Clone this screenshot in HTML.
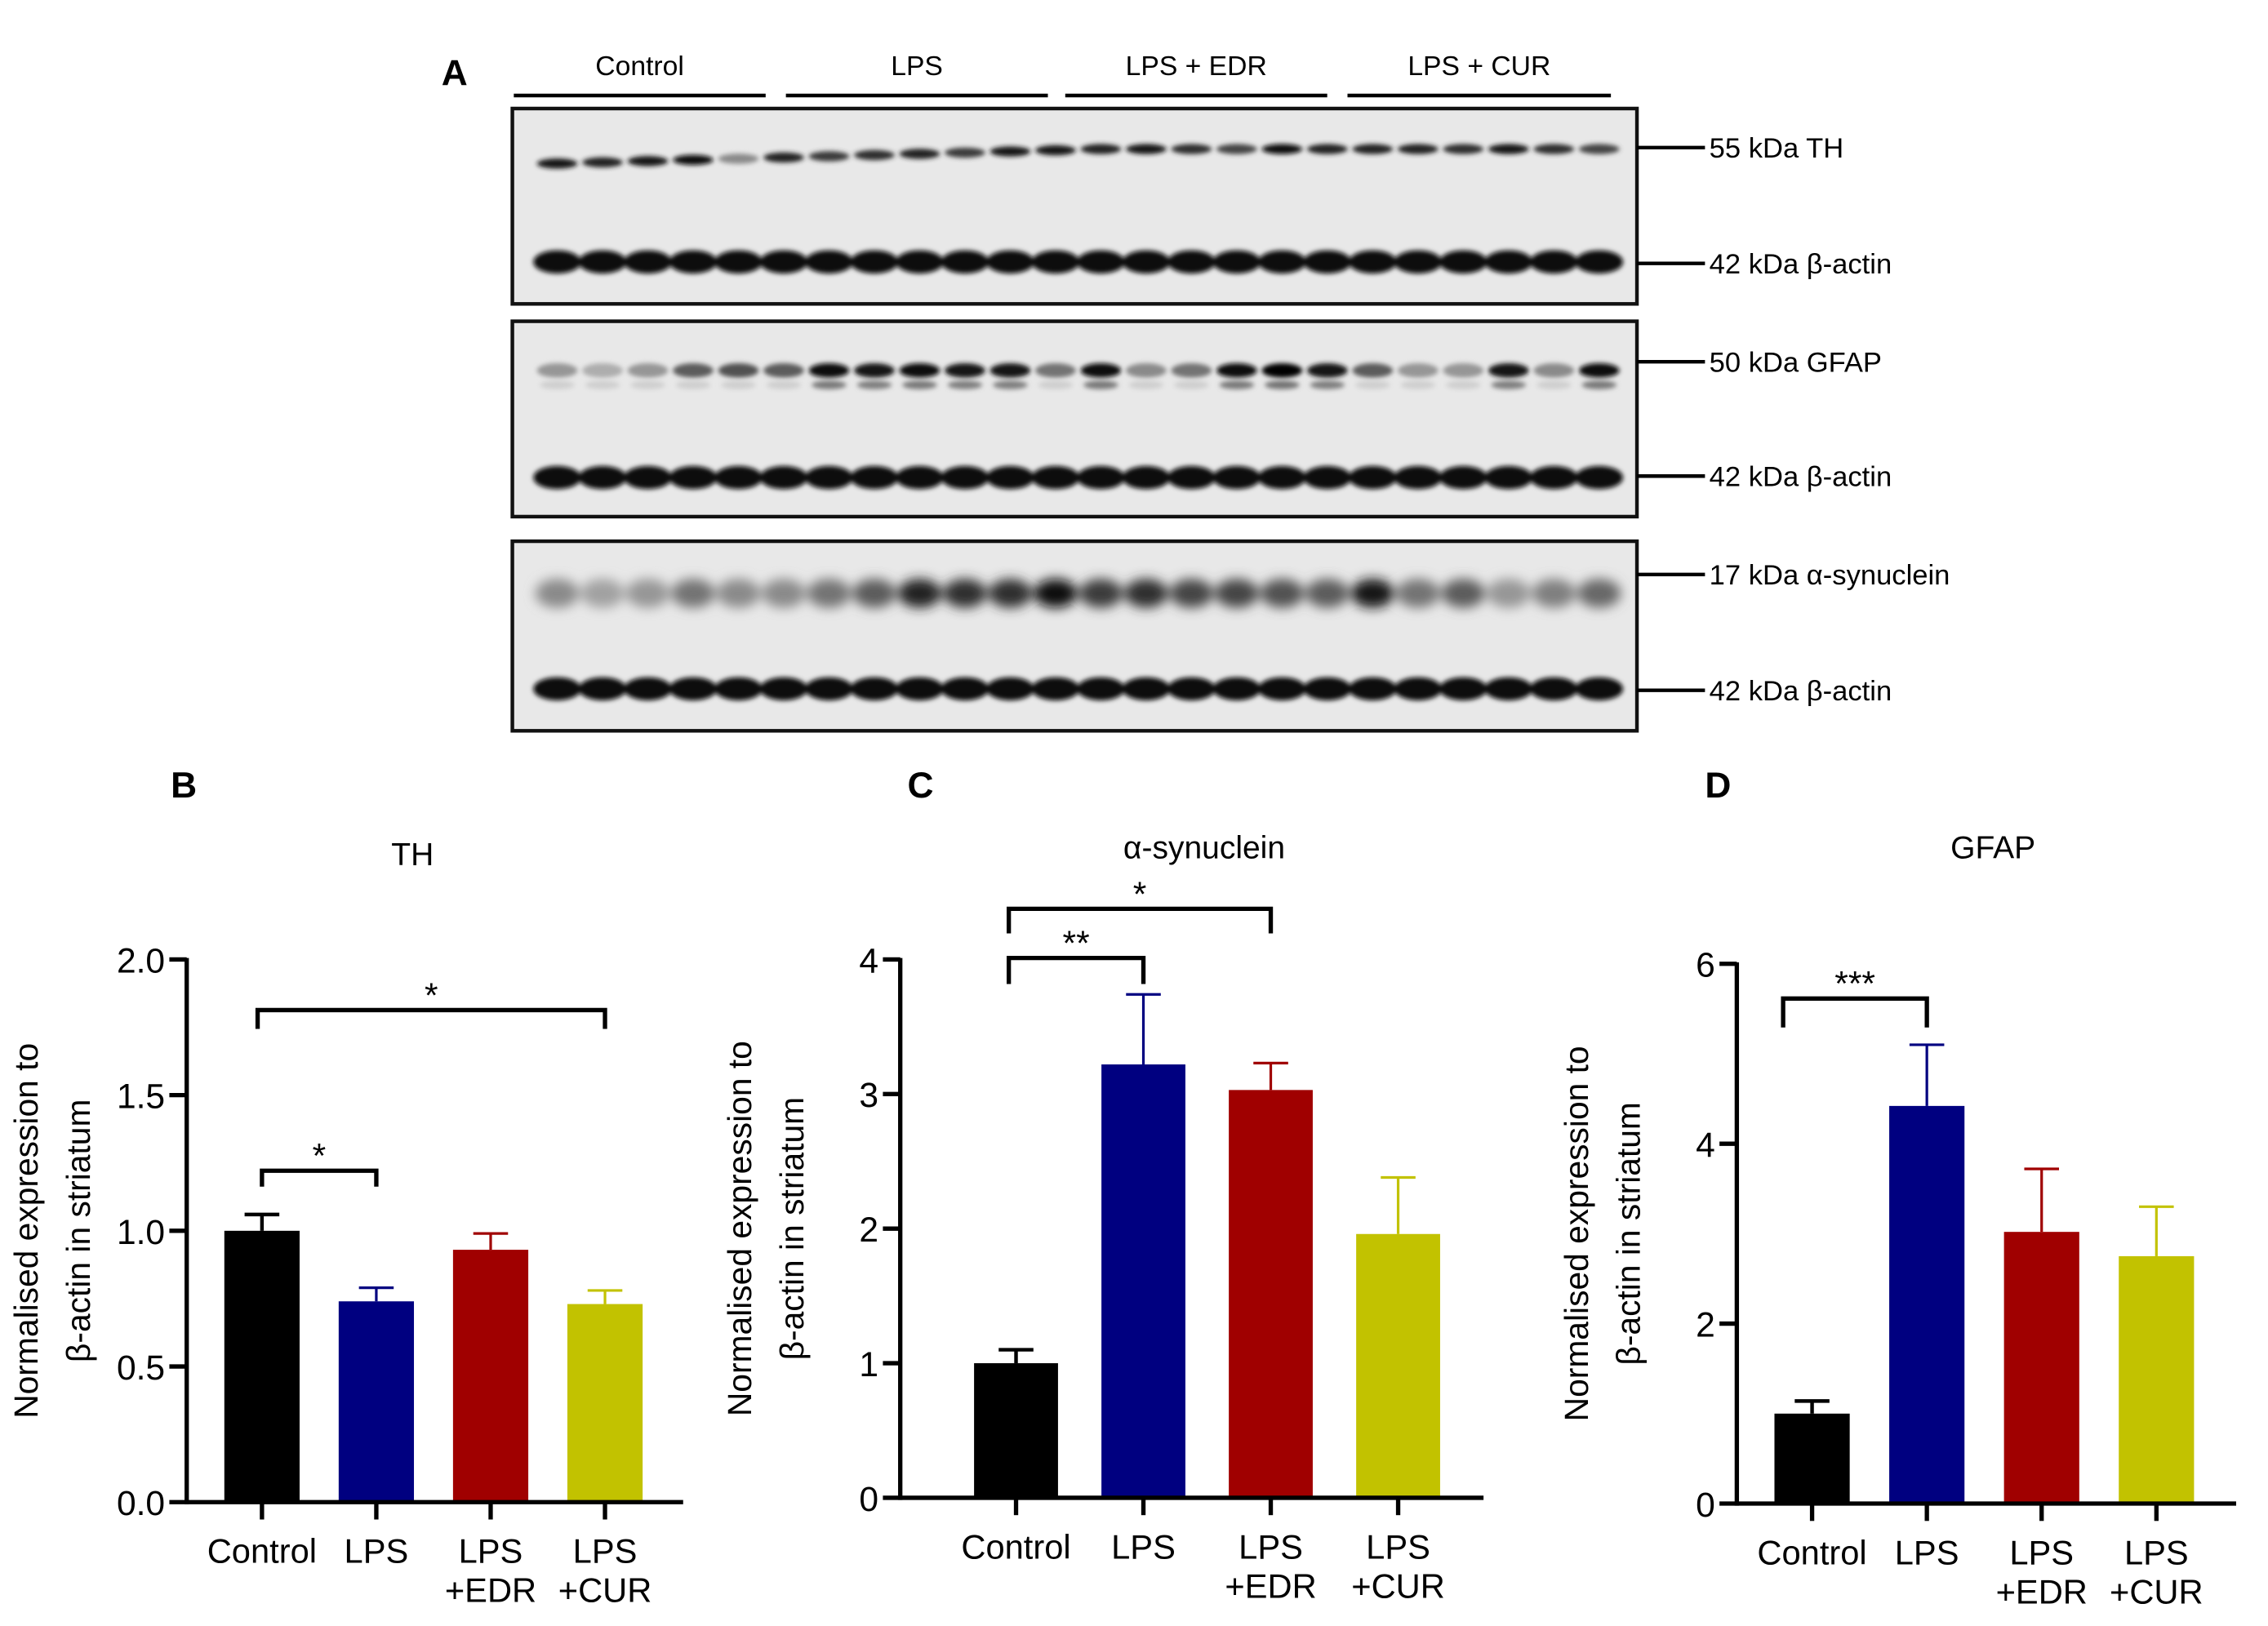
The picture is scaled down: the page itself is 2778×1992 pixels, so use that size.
<!DOCTYPE html>
<html><head><meta charset="utf-8">
<style>
html,body{margin:0;padding:0;background:#fff;}
svg{display:block;font-family:"Liberation Sans",Arial,sans-serif;}
</style></head>
<body>
<svg id="fig" width="2778" height="1992" viewBox="0 0 1567 1123.6" preserveAspectRatio="none" xmlns="http://www.w3.org/2000/svg">
<defs>
<filter id="blur1" x="-50%" y="-100%" width="200%" height="300%"><feGaussianBlur stdDeviation="1.6"/></filter>
<filter id="blur2" x="-50%" y="-100%" width="200%" height="300%"><feGaussianBlur stdDeviation="4"/></filter>
</defs>
<g id="blot"></g>
<g id="charts"></g>
</svg>
<script>
// ---- Western blot data ----
const laneCount = 24;
const thIntensity = [0.9,0.85,0.9,0.95,0.4,0.85,0.75,0.8,0.85,0.75,0.9,0.9,0.85,0.9,0.8,0.7,0.95,0.85,0.85,0.85,0.8,0.9,0.8,0.7];
const gfapIntensity = [0.35,0.25,0.35,0.6,0.65,0.6,0.95,0.9,0.95,0.9,0.9,0.5,0.95,0.4,0.5,0.95,1,0.9,0.6,0.35,0.35,0.9,0.4,0.95];
const asynIntensity = [0.4,0.3,0.35,0.5,0.4,0.4,0.5,0.6,0.85,0.8,0.8,0.95,0.75,0.8,0.7,0.7,0.65,0.6,0.9,0.5,0.6,0.35,0.45,0.55];
const groupNames = ["Control","LPS","LPS + EDR","LPS + CUR"];
const markerLabels = ["55 kDa  TH","42 kDa β-actin","50 kDa  GFAP","42 kDa β-actin","17 kDa  α-synuclein","42 kDa β-actin"];

// ---- Chart data ----
const categories = ["Control","LPS","LPS\n+EDR","LPS\n+CUR"];
const barColors = ["#000000","#000080","#a00000","#c2c200"];
const thValues = [1.0,0.74,0.93,0.73];
const thErrors = [0.06,0.05,0.06,0.05];
const thTicks = ["0.0","0.5","1.0","1.5","2.0"];
const synValues = [1.0,3.22,3.03,1.96];
const synErrors = [0.1,0.52,0.2,0.42];
const synTicks = ["0","1","2","3","4"];
const gfapValues = [1.0,4.42,3.02,2.75];
const gfapErrors = [0.14,0.68,0.7,0.55];
const gfapTicks = ["0","2","4","6"];

const NS="http://www.w3.org/2000/svg";
function mk(parent,tag,attrs,text){const e=document.createElementNS(NS,tag);for(const k in attrs)e.setAttribute(k,attrs[k]);if(text!==undefined)e.textContent=text;parent.appendChild(e);return e;}

// ---- Blot ----
const blot=document.getElementById('blot');
const laneX=i=>385+i*31.3;
const groupLines=[[355,529],[543,724],[736,917],[931,1113]];
groupNames.forEach((g,i)=>{
  const l=mk(blot,'line',{x1:groupLines[i][0],x2:groupLines[i][1],y1:66,y2:66,stroke:'#000','stroke-width':2.5});
  
  
  const t=mk(blot,'text',{x:(groupLines[i][0]+groupLines[i][1])/2,y:52,'font-size':19,'text-anchor':'middle'},g);
  
  
});
mk(blot,'text',{x:305,y:59,'font-size':25,'font-weight':'bold'},'A');
const boxes=[[75,210],[222,357],[374,505]];
boxes.forEach((b,i)=>{
  const r=mk(blot,'rect',{x:354,y:b[0],width:777,height:b[1]-b[0],fill:'#e8e8e8',stroke:'#111','stroke-width':2.5});
  
  
});
function bands(arr,yFn,h,w,blur){
  const g=mk(blot,'g',{filter:'url(#'+blur+')'});
  for(let i=0;i<laneCount;i++){
    const v=arr?arr[i]:0.97;
    const c=Math.round(230*(1-v));
    const e=mk(g,'ellipse',{cx:laneX(i),cy:yFn(i),rx:w,ry:h,fill:'rgb('+c+','+c+','+c+')'});
    
    
  }
}
bands(thIntensity,i=>113-10*Math.min(i,12)/12,3.5,14,'blur1');
bands(null,i=>181,8,16.5,'blur1');
bands(gfapIntensity,i=>256,5,14,'blur1');
bands(gfapIntensity.map(v=>v>0.85?v*0.5:0.1),i=>266,3,12,'blur1');
bands(null,i=>330,8,16.5,'blur1');
bands(asynIntensity,i=>410,10,15,'blur2');
bands(null,i=>476,8,16.5,'blur1');
const markerY=[102,182,250,329,397,477];
markerLabels.forEach((m,i)=>{
  mk(blot,'line',{x1:1131,x2:1178,y1:markerY[i],y2:markerY[i],stroke:'#000','stroke-width':2.5});
  const t=mk(blot,'text',{x:1181,y:markerY[i]+7,'font-size':19.5,'xml:space':'preserve'},m);
  
  
});

// ---- Bar charts ----
const charts=document.getElementById('charts');
function chart(cfg){
  const g=mk(charts,'g',{});
  
  
  const ys=v=>cfg.y0-(v/cfg.max)*(cfg.y0-cfg.yTop);
  mk(g,'text',{x:cfg.letterX,y:551,'font-size':25,'font-weight':'bold'},cfg.letter);
  const tt=mk(g,'text',{x:cfg.titleX,y:cfg.titleY,'font-size':22,'text-anchor':'middle'},cfg.title);
  
  
  const yl=mk(g,'text',{transform:`translate(${cfg.ax-91},${(cfg.y0+cfg.yTop)/2}) rotate(-90)`,'font-size':23,'text-anchor':'middle'});
  
  
  mk(yl,'tspan',{x:0,dy:-12},'Normalised expression to');
  mk(yl,'tspan',{x:0,dy:36},'β-actin in striatum');
  cfg.ticks.forEach(t=>{
    const y=ys(parseFloat(t));
    mk(g,'line',{x1:cfg.ax-12,x2:cfg.ax,y1:y,y2:y,stroke:'#000','stroke-width':3});
    const tl=mk(g,'text',{x:cfg.ax-15,y:y+9,'font-size':24,'text-anchor':'end'},t);
    
    
  });
  const xs=i=>cfg.x0+cfg.step*i;
  cfg.values.forEach((v,i)=>{
    const cx=xs(i);
    const top=ys(v);
    const r=mk(g,'rect',{x:cx-cfg.bw/2,y:top,width:cfg.bw,height:cfg.y0-top,fill:barColors[i]});
    
    
    const et=ys(v+cfg.errors[i]);
    const col=i===0?'#000':barColors[i];
    mk(g,'line',{x1:cx,x2:cx,y1:top,y2:et,stroke:col,'stroke-width':i===0?2.5:1.8});
    mk(g,'line',{x1:cx-12,x2:cx+12,y1:et,y2:et,stroke:col,'stroke-width':i===0?2.5:1.8});
    mk(g,'line',{x1:cx,x2:cx,y1:cfg.y0,y2:cfg.y0+12,stroke:'#000','stroke-width':3});
    const lines=categories[i].split('\n');
    lines.forEach((ln,k)=>{
      const t=mk(g,'text',{x:cx,y:cfg.y0+42+k*27,'font-size':23.5,'text-anchor':'middle'},ln);
      
      
    });
  });
  mk(g,'line',{x1:cfg.ax,x2:cfg.ax,y1:cfg.yTop-1,y2:cfg.y0+1.5,stroke:'#000','stroke-width':3});
  mk(g,'line',{x1:cfg.ax,x2:cfg.xEnd,y1:cfg.y0,y2:cfg.y0,stroke:'#000','stroke-width':3});
  cfg.brackets.forEach(b=>{
    const x1=xs(b.a)+b.off, x2=xs(b.b);
    const p=mk(g,'path',{d:`M${x1},${b.y+b.h} V${b.y} H${x2} V${b.y+b.h}`,fill:'none',stroke:'#000','stroke-width':3});
    
    
    const s=mk(g,'text',{x:(x1+x2)/2,y:b.y-2,'font-size':24,'text-anchor':'middle'},b.s);
    
    
  });
}
chart({name:'chart-th',letter:'B',letterX:118,title:'TH',titleX:285,titleY:598,ax:129,xEnd:472,y0:1038,yTop:663,max:2,x0:181,step:79,bw:52,values:thValues,errors:thErrors,ticks:thTicks,
  brackets:[{a:0,b:1,y:809,h:11,s:'*',off:0},{a:0,b:3,y:698,h:13,s:'*',off:-3}]});
chart({name:'chart-synuclein',letter:'C',letterX:627,title:'α-synuclein',titleX:832,titleY:593,ax:622,xEnd:1025,y0:1035,yTop:663,max:4,x0:702,step:88,bw:58,values:synValues,errors:synErrors,ticks:synTicks,
  brackets:[{a:0,b:1,y:662,h:18,s:'**',off:-5},{a:0,b:2,y:628,h:17,s:'*',off:-5}]});
chart({name:'chart-gfap',letter:'D',letterX:1178,title:'GFAP',titleX:1377,titleY:593,ax:1200,xEnd:1545,y0:1039,yTop:666,max:6,x0:1252,step:79.3,bw:52,values:gfapValues,errors:gfapErrors,ticks:gfapTicks,
  brackets:[{a:0,b:1,y:690,h:20,s:'***',off:-20}]});
</script>
</body></html>
